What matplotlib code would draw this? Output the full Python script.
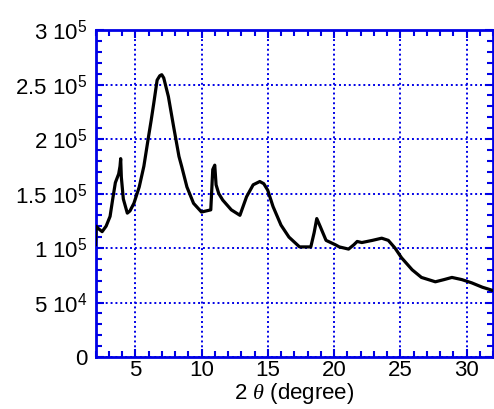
import matplotlib
matplotlib.use("Agg")
import matplotlib.pyplot as plt
from matplotlib.ticker import MultipleLocator

plt.rcParams['font.family'] = ['Liberation Sans', 'DejaVu Sans']
plt.rcParams['mathtext.fontset'] = 'custom'
plt.rcParams['mathtext.rm'] = 'Liberation Sans'
plt.rcParams['mathtext.it'] = 'Liberation Serif:italic'

two_theta = [2.0, 2.05, 2.2, 2.5, 2.8, 3.1, 3.3, 3.5, 3.75, 3.85, 3.9, 3.95, 4.1, 4.4, 4.6, 4.9,
             5.3, 5.65, 6.0, 6.2, 6.4, 6.65, 6.85, 7.0, 7.15, 7.5, 7.9, 8.3, 8.5, 8.9, 9.4,
             10.0, 10.7, 10.85, 11.0, 11.1, 11.3, 11.6, 12.25, 12.9, 13.4, 13.9, 14.4,
             14.7, 15.0, 15.4, 16.0, 16.6, 17.4, 18.25, 18.5, 18.7, 18.95, 19.4, 20.1,
             20.4, 21.1, 21.5, 21.75, 22.1, 22.9, 23.6, 24.1, 24.6, 25.1, 25.9, 26.6,
             27.65, 28.3, 28.9, 29.65, 30.4, 31.2, 32.0]
intensity = [1.03e5, 1.2e5, 1.18e5, 1.15e5, 1.2e5, 1.29e5, 1.45e5, 1.6e5, 1.68e5, 1.75e5,
             1.82e5, 1.65e5, 1.45e5, 1.32e5, 1.34e5, 1.41e5,
             1.56e5, 1.75e5, 2.02e5, 2.17e5, 2.33e5, 2.54e5, 2.58e5, 2.59e5, 2.56e5,
             2.39e5, 2.11e5, 1.84e5, 1.75e5, 1.56e5, 1.41e5,
             1.33e5, 1.35e5, 1.72e5, 1.76e5, 1.58e5, 1.5e5, 1.44e5, 1.35e5, 1.30e5,
             1.47e5, 1.58e5, 1.61e5,
             1.59e5, 1.53e5, 1.38e5, 1.21e5, 1.10e5, 1.01e5, 1.01e5, 1.14e5, 1.27e5,
             1.20e5, 1.07e5, 1.03e5,
             1.01e5, 0.99e5, 1.03e5, 1.06e5, 1.05e5, 1.07e5, 1.09e5, 1.07e5, 1.0e5,
             0.91e5, 0.80e5, 0.73e5,
             0.69e5, 0.71e5, 0.73e5, 0.71e5, 0.68e5, 0.64e5, 0.61e5]

x_ticks = [5, 10, 15, 20, 25, 30]
x_tick_labels = ['5', '10', '15', '20', '25', '30']
y_ticks = [0, 5e4, 1e5, 1.5e5, 2e5, 2.5e5, 3e5]
y_tick_labels = ['0', '5 10$^{4}$', '1 10$^{5}$', '1.5 10$^{5}$', '2 10$^{5}$',
                 '2.5 10$^{5}$', '3 10$^{5}$']

blue = '#0000e6'

fig = plt.figure(figsize=(4.94, 4.09), dpi=100)
ax = fig.add_axes([95.5 / 494, 52 / 409, (493 - 95.5) / 494, 327 / 409])

ax.plot(two_theta, intensity, color='black', linewidth=2.3, zorder=3)

ax.set_xlim(2, 32)
ax.set_ylim(0, 3e5)
ax.set_xticks(x_ticks)
ax.set_xticklabels(x_tick_labels)
ax.set_yticks(y_ticks)
ax.set_yticklabels(y_tick_labels)
ax.xaxis.set_minor_locator(MultipleLocator(1))
ax.yaxis.set_minor_locator(MultipleLocator(1e4))

for s in ax.spines.values():
    s.set_color(blue)
    s.set_linewidth(2.0)

ax.tick_params(which='both', direction='in', top=True, right=True, color=blue,
               labelsize=16, width=1.5)
ax.tick_params(which='major', length=6)
ax.tick_params(which='minor', length=4)
ax.tick_params(axis='x', which='major', pad=2)
ax.tick_params(axis='y', which='major', pad=6)

ax.grid(True, which='major', color=blue, linestyle=(0, (1, 1.5)), linewidth=1.4)

ax.set_xlabel('2 $\\theta$ (degree)', fontsize=16, labelpad=0)

fig.savefig('out.png', dpi=100)
